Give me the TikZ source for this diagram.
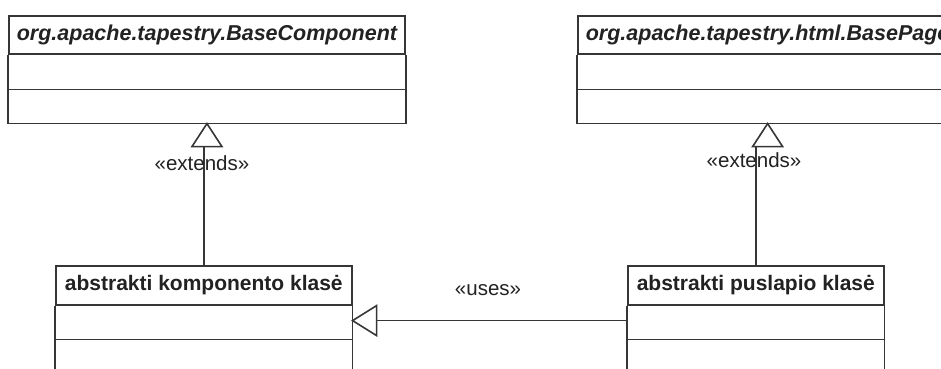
\documentclass[tikz,border=0pt]{standalone}
\usepackage{fontspec}
\setmainfont{Liberation Sans}
\definecolor{linec}{HTML}{363636}
\definecolor{textc}{HTML}{222222}
\begin{document}
\begin{tikzpicture}[x=1pt,y=-1pt,
  umlline/.style={draw=linec, line width=1.6pt},
  hdr/.style={draw=linec, line width=1.6pt, anchor=north west,
    minimum height=38pt, inner xsep=7pt, inner ysep=0pt, text=textc,
    font=\fontsize{21}{25}\selectfont\bfseries},
  abshdr/.style={hdr, inner xsep=8pt,
    font=\fontsize{21.5}{25}\selectfont\bfseries\itshape},
  stereo/.style={text=textc, inner sep=0pt,
    font=\fontsize{20.5}{24}\selectfont}]
\useasboundingbox (0,0) rectangle (941,368);
\fill[white] (0,0) rectangle (941,368);
\clip (0,0) rectangle (941,368);

% --- class headers ---
\node[abshdr, minimum width=394pt]
  (bc) at (8,15) {org.apache.tapestry.BaseComponent};
\node[abshdr]
  (bp) at (577,15) {org.apache.tapestry.html.BasePage};
\node[hdr, minimum width=296pt, minimum height=39pt]
  (kc) at (55,265) {abstrakti komponento klasė};
\node[hdr, minimum width=256pt, minimum height=39pt]
  (pk) at (627,265) {abstrakti puslapio klasė};

% --- attribute and operation compartments ---
\foreach \c/\h in {bc/69, bp/69, kc/110, pk/110}{
  \draw[umlline] (\c.south west) -- ++(0,\h) -| (\c.south east);
}
\foreach \c in {bc, bp}{
  \draw[umlline] ([yshift=-35pt]\c.south west) -- ([yshift=-35pt]\c.south east);
}
\foreach \c in {kc, pk}{
  \draw[umlline] ([yshift=-34pt]\c.south west) -- ([yshift=-34pt]\c.south east);
}

% --- generalisation: component -> BaseComponent ---
\coordinate (bcbot) at ([yshift=-69pt]bc.south);
\coordinate (bcbase) at ([yshift=-23pt]bcbot);
\draw[umlline] (kc.north) -- (kc.north |- bcbase);
\draw[umlline, fill=white] (bcbot) -- ++(-15,23) -- ++(30,0) -- cycle;
\node[stereo] (ext1) at (202,163) {«extends»};

% --- generalisation: page -> BasePage ---
\coordinate (bpbot) at ([yshift=-69pt]bp.south);
\coordinate (bpbase) at ([yshift=-23pt]bpbot);
\draw[umlline] (pk.north) -- (pk.north |- bpbase);
\draw[umlline, fill=white] (bpbot) -- ++(-15,23) -- ++(30,0) -- cycle;
\node[stereo] (ext2) at (754,160) {«extends»};

% --- page uses component ---
\coordinate (usesapex) at ([yshift=-15pt]kc.south east);
\draw[umlline] (pk.west |- usesapex) -- ([xshift=24pt]usesapex);
\draw[umlline, fill=white] (usesapex) -- ++(24,-15) -- ++(0,30) -- cycle;
\node[stereo] (uses) at (488,290) {«uses»};
\end{tikzpicture}
\end{document}
